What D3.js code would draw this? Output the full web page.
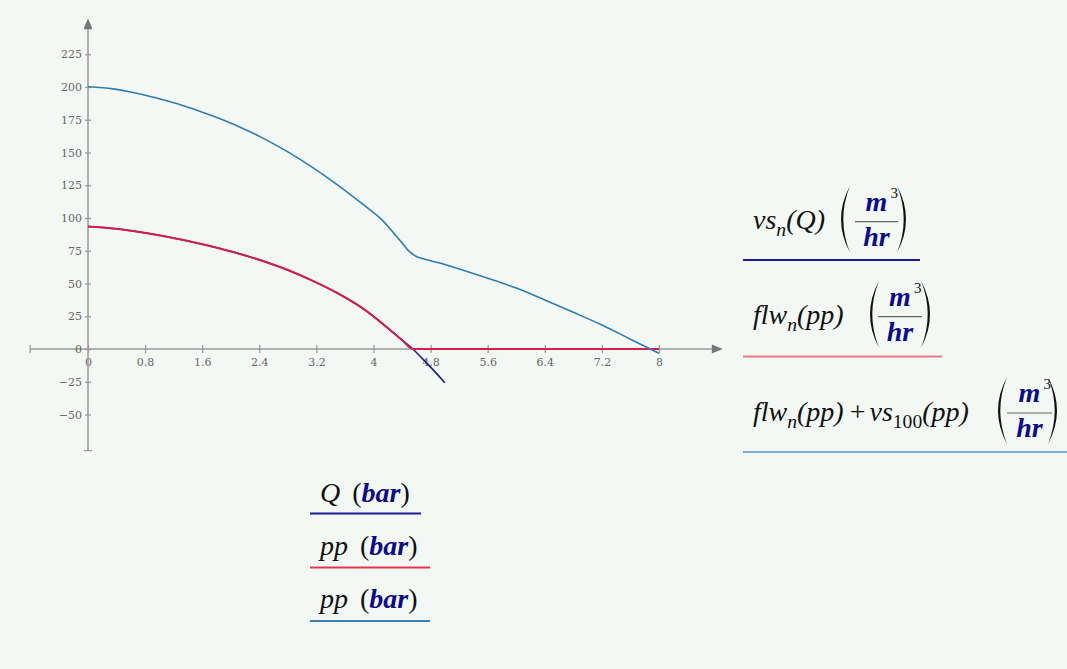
<!DOCTYPE html>
<html>
<head>
<meta charset="utf-8">
<script src="https://cdn.jsdelivr.net/npm/d3@7"></script>
<style>
  body { margin: 0; background: #f4f8f5; }
  svg { display: block; }
</style>
</head>
<body>
<script>
// ---- data ----
var xTicks = [0, 0.8, 1.6, 2.4, 3.2, 4, 4.8, 5.6, 6.4, 7.2, 8];
var yTicks = [-50, -25, 0, 25, 50, 75, 100, 125, 150, 175, 200, 225];

// vs_n(Q) vs Q (bar)
var qX  = [0, 0.35, 0.7, 1.05, 1.4, 1.75, 2.1, 2.45, 2.8, 3.15, 3.5, 3.85, 4.2, 4.4, 4.55, 4.75, 5.0];
var vsQ = [93.5, 92.0, 89.5, 86.3, 82.4, 78.0, 73.0, 67.2, 60.3, 52.0, 42.5, 31.0, 16.0, 6.8, 0, -11.0, -25.7];

// flw_n(pp) vs pp (bar)
var flwX = [0, 0.35, 0.7, 1.05, 1.4, 1.75, 2.1, 2.45, 2.8, 3.15, 3.5, 3.85, 4.2, 4.4, 4.55, 8.0];
var flw  = [93.5, 92.0, 89.5, 86.3, 82.4, 78.0, 73.0, 67.2, 60.3, 52.0, 42.5, 31.0, 16.0, 6.8, 0, 0];

// flw_n(pp) + vs_100(pp) vs pp (bar)
var sumX = [0, 0.35, 0.7, 1.05, 1.4, 1.75, 2.1, 2.45, 2.8, 3.15, 3.5, 3.85, 4.1, 4.4, 4.5, 4.6, 5.0, 5.6, 6.0, 6.4, 6.8, 7.2, 7.6, 8.0];
var sumY = [200.2, 198.6, 195.0, 190.2, 184.6, 177.8, 170.1, 161.0, 150.5, 138.5, 125.1, 110.5, 99.5, 81.0, 74.5, 70.6, 64.5, 54.0, 46.5, 37.4, 28.0, 18.3, 7.5, -3.3];

var width = 1067, height = 669;
var navy = "#1c1c90", red = "#d41f4b", blue = "#2f7cb0";

var svg = d3.select("body").append("svg")
    .attr("width", width)
    .attr("height", height);

svg.append("rect").attr("width", width).attr("height", height).attr("fill", "#f4f8f5");

// scales
var x = d3.scaleLinear().domain([0, 8]).range([88, 659]);
var y = d3.scaleLinear().domain([0, 200]).range([349, 87]);

var axisColor = "#9a9a9a";
var tickFont = "DejaVu Serif, serif";

// x axis
var gx = svg.append("g")
    .attr("transform", "translate(0," + y(0) + ")")
    .call(d3.axisBottom(x).tickValues(xTicks).tickSize(4).tickPadding(5).tickFormat(d3.format("~g")));
gx.select(".domain").remove();
gx.selectAll(".tick line").attr("y1", -4).attr("stroke", axisColor).attr("stroke-width", 1.3);
gx.selectAll(".tick text")
    .attr("fill", "#666").style("font-family", tickFont).style("font-size", "11px");
gx.append("line")
    .attr("x1", x(-0.81)).attr("x2", x(8.74))
    .attr("stroke", axisColor).attr("stroke-width", 1.5);
gx.append("line")
    .attr("x1", x(-0.81)).attr("x2", x(-0.81)).attr("y1", -4).attr("y2", 4)
    .attr("stroke", axisColor).attr("stroke-width", 1.3);
gx.append("path")
    .attr("d", "M" + (x(8.74) + 11) + ",0 L" + x(8.74) + ",-4.5 L" + x(8.74) + ",4.5 Z")
    .attr("fill", "#777");

// y axis
var gy = svg.append("g")
    .attr("transform", "translate(" + x(0) + ",0)")
    .call(d3.axisLeft(y).tickValues(yTicks).tickSize(3).tickPadding(3));
gy.select(".domain").remove();
gy.selectAll(".tick line").attr("x1", 3).attr("stroke", axisColor).attr("stroke-width", 1.3);
gy.selectAll(".tick text")
    .attr("fill", "#666").style("font-family", tickFont).style("font-size", "11px");
gy.append("line")
    .attr("y1", y(-77.5)).attr("y2", y(244))
    .attr("stroke", axisColor).attr("stroke-width", 1.5);
gy.append("line")
    .attr("x1", -4).attr("x2", 4).attr("y1", y(-77.5)).attr("y2", y(-77.5))
    .attr("stroke", axisColor).attr("stroke-width", 1.3);
gy.append("path")
    .attr("d", "M0," + (y(244) - 11) + " L-4.5," + y(244) + " L4.5," + y(244) + " Z")
    .attr("fill", "#777");

// curves
function curve(xs, ys, c) {
    var pts = xs.map(function (d, i) { return [d, ys[i]]; });
    return d3.line()
        .x(function (d) { return x(d[0]); })
        .y(function (d) { return y(d[1]); })
        .curve(c)(pts);
}

svg.append("path").attr("d", curve(qX, vsQ, d3.curveMonotoneX))
    .attr("fill", "none").attr("stroke", navy).attr("stroke-width", 1.6);
svg.append("path").attr("d", curve(flwX, flw, d3.curveMonotoneX))
    .attr("fill", "none").attr("stroke", red).attr("stroke-width", 2);
svg.append("path").attr("d", curve(sumX, sumY, d3.curveCatmullRom.alpha(0.5)))
    .attr("fill", "none").attr("stroke", blue).attr("stroke-width", 1.6);

// ---- legends (math-style labels) ----
var mathFont = "Liberation Serif, serif";
var fs = 28;

function addParts(text, parts) {
    parts.forEach(function (p) {
        var t = text.append("tspan").text(p.t);
        if (p.sub) t.attr("font-size", fs * 0.7).attr("dy", 7);
        if (p.up) t.attr("dy", -7);
        if (p.unit) t.attr("font-weight", "bold").attr("fill", "#0c0c88");
        if (p.plain) t.attr("font-style", "normal");
        if (p.dx) t.attr("dx", p.dx);
    });
}

function paren(g, px, y0, y1, left) {
    var w = 9, t = 2.3, m = (y0 + y1) / 2, s = left ? 1 : -1;
    var tip = px + s * w;
    g.append("path")
        .attr("d", "M" + tip + "," + y0 +
            " Q" + (px - s * w) + "," + m + " " + tip + "," + y1 +
            " Q" + (px + s * (2 * t - w)) + "," + m + " " + tip + "," + y0 + " Z")
        .attr("fill", "#111");
}

function fraction(g, cx, barY, left, right, barW) {
    paren(g, left, barY - 36, barY + 31, true);
    paren(g, right, barY - 36, barY + 31, false);
    g.append("line")
        .attr("x1", cx - barW / 2).attr("x2", cx + barW / 2)
        .attr("y1", barY).attr("y2", barY)
        .attr("stroke", "#666").attr("stroke-width", 1.2);
    var m = g.append("text").attr("x", cx).attr("y", barY - 11)
        .attr("text-anchor", "middle")
        .style("font-family", mathFont).style("font-style", "italic").style("font-weight", "bold")
        .attr("font-size", fs).attr("fill", "#0c0c88").text("m");
    var mw = m.node().getComputedTextLength();
    g.append("text").attr("x", cx + mw / 2 + 3).attr("y", barY - 24)
        .style("font-family", mathFont).attr("font-size", 15).attr("fill", "#111").text("3");
    g.append("text").attr("x", cx).attr("y", barY + 24)
        .attr("text-anchor", "middle")
        .style("font-family", mathFont).style("font-style", "italic").style("font-weight", "bold")
        .attr("font-size", fs).attr("fill", "#0c0c88").text("hr");
}

var lg = svg.append("g");

function mathLabel(lx, ly, parts) {
    var t = lg.append("text").attr("x", lx).attr("y", ly)
        .style("font-family", mathFont).style("font-style", "italic")
        .attr("font-size", fs).attr("fill", "#111");
    addParts(t, parts);
    return t;
}

// right legend
mathLabel(753, 229, [{ t: "vs" }, { t: "n", sub: true }, { t: "(Q)", up: true }]);
fraction(lg, 876.5, 221.7, 841, 906, 43);
lg.append("line").attr("x1", 743).attr("x2", 920).attr("y1", 260).attr("y2", 260)
    .attr("stroke", "#1a1a92").attr("stroke-width", 2);

mathLabel(753, 324, [{ t: "flw" }, { t: "n", sub: true }, { t: "(pp)", up: true }]);
fraction(lg, 900, 316.7, 870, 930, 44);
lg.append("line").attr("x1", 743).attr("x2", 942).attr("y1", 356.5).attr("y2", 356.5)
    .attr("stroke", "#ea7b84").attr("stroke-width", 2);

mathLabel(753, 421, [{ t: "flw" }, { t: "n", sub: true }, { t: "(pp)", up: true },
    { t: "+", plain: true, dx: 6 }, { t: "vs", dx: 4 }, { t: "100", sub: true, plain: true }, { t: "(pp)", up: true }]);
fraction(lg, 1029.5, 413, 998, 1057, 45);
lg.append("line").attr("x1", 743).attr("x2", 1067).attr("y1", 452).attr("y2", 452)
    .attr("stroke", "#7fb0cf").attr("stroke-width", 2);

// bottom legend
var bottom = [
    { name: "Q", y: 502, lineY: 513.5, end: 421, color: "#1a1a9a" },
    { name: "pp", y: 555, lineY: 567.5, end: 430, color: "#e8344c" },
    { name: "pp", y: 608, lineY: 621, end: 430, color: "#3a80b6" }
];
bottom.forEach(function (b) {
    mathLabel(320, b.y, [{ t: b.name }, { t: "(", plain: true, dx: 12 }, { t: "bar", unit: true }, { t: ")", plain: true }]);
    lg.append("line").attr("x1", 310).attr("x2", b.end).attr("y1", b.lineY).attr("y2", b.lineY)
        .attr("stroke", b.color).attr("stroke-width", 2.2);
});
</script>
</body>
</html>
